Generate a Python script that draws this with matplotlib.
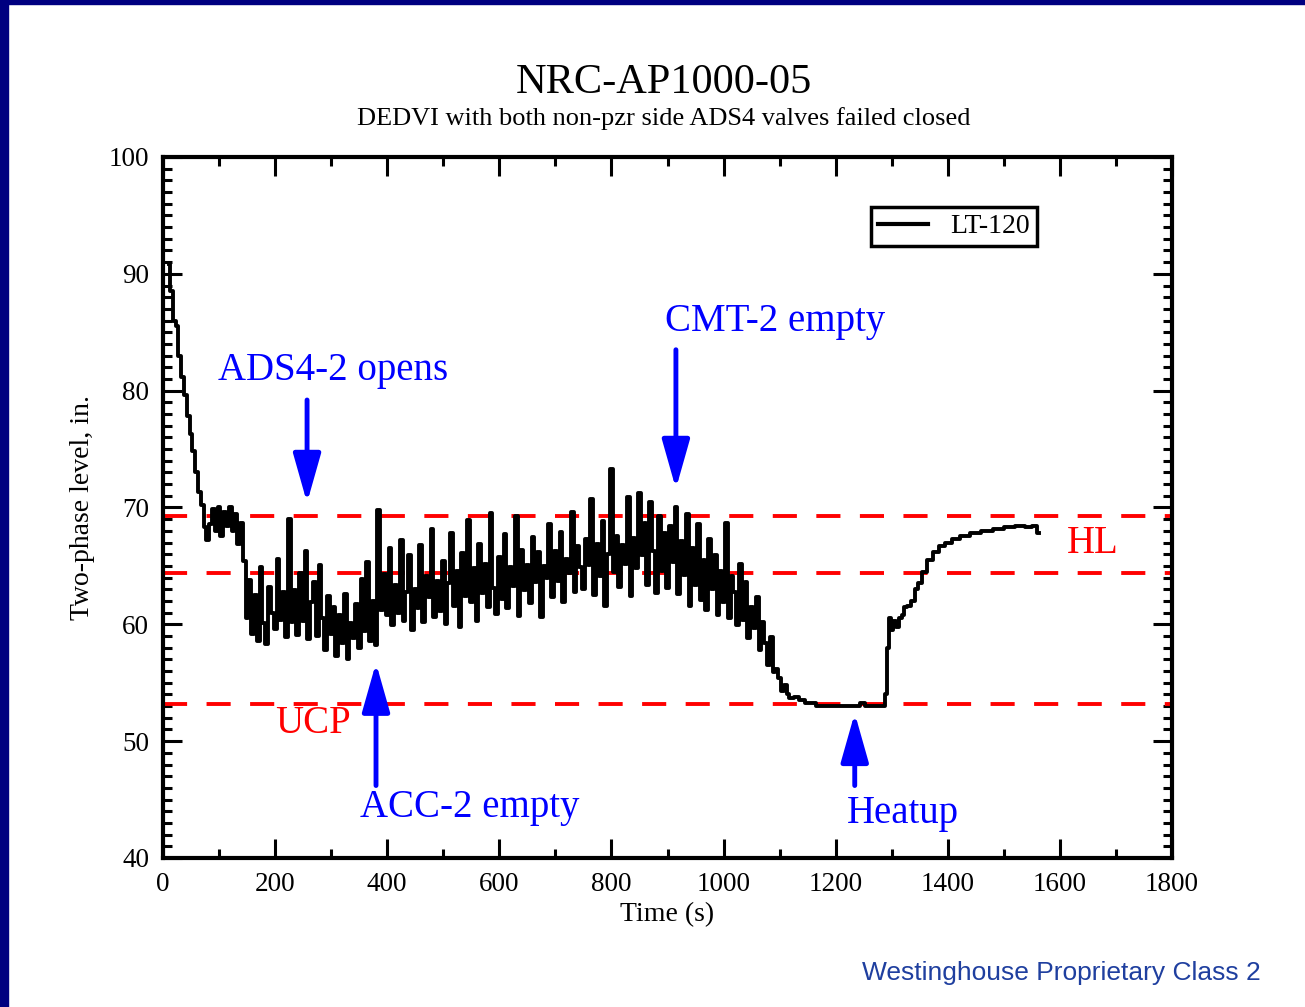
import numpy as np
import matplotlib.pyplot as plt
from matplotlib.patches import Rectangle

# LT-120 two-phase level (in.)
t_early = [10, 15, 20, 25, 30, 35, 40, 45, 50, 55, 60, 65, 70, 75, 80, 85, 90, 95,
           100, 105, 110, 115, 120, 125, 130, 135, 140, 145]
lvl_early = [90.8, 88.5, 86.0, 85.5, 83.0, 81.2, 79.6, 77.8, 76.3, 74.8, 73.0, 71.3,
             70.2, 68.3, 67.2, 68.6, 69.9, 68.0, 70.0, 67.6, 69.6, 68.4, 70.0, 68.0,
             69.4, 66.9, 68.7, 65.4]

# noisy section, 150 s to 1100 s every 5 s
t_noisy = list(range(150, 1101, 5))
lvl_noisy = [
    60.5, 63.8, 59.2, 62.5, 58.6, 64.9, 60.1, 58.3, 63.2, 61.0,
    59.6, 65.6, 60.4, 62.8, 58.9, 69.0, 60.2, 62.9, 59.1, 64.4,
    60.3, 66.3, 58.7, 61.9, 63.6, 59.0, 65.1, 60.5, 57.8, 62.4,
    59.2, 61.5, 57.3, 60.8, 58.4, 62.6, 57.0, 60.1, 58.8, 61.7,
    58.0, 63.9, 59.4, 65.3, 58.6, 62.0, 58.2, 69.8, 61.2, 64.3,
    60.8, 66.5, 59.9, 63.4, 61.0, 67.2, 60.3, 62.8, 65.9, 59.5,
    63.0, 61.4, 66.8, 60.2, 64.1, 62.3, 68.2, 60.6, 63.7, 61.1,
    65.4, 60.0, 63.5, 67.8, 61.6, 64.6, 59.8, 66.1, 62.4, 68.9,
    61.9, 64.8, 60.3, 66.9, 62.7, 65.2, 61.5, 69.5, 63.1, 60.9,
    65.8, 62.2, 67.7, 61.4, 64.9, 63.3, 69.3, 60.7, 66.4, 62.9,
    65.1, 61.8, 67.5, 63.6, 66.2, 60.6, 65.0, 64.0, 68.6, 62.3,
    66.3, 63.7, 67.9, 61.9, 65.6, 64.4, 69.6, 62.8, 66.7, 64.9,
    63.0, 67.3, 65.1, 70.7, 62.5, 66.9, 64.1, 68.8, 61.6, 66.0,
    73.3, 64.5, 67.6, 63.2, 66.8, 65.2, 70.9, 62.4, 67.4, 64.8,
    71.2, 65.9, 68.7, 63.4, 70.5, 66.3, 62.7, 69.3, 64.6, 67.8,
    63.1, 68.4, 65.3, 70.0, 62.6, 67.1, 64.2, 69.4, 61.6, 66.5,
    63.4, 68.6, 62.1, 65.5, 61.2, 67.3, 63.0, 65.9, 60.8, 64.6,
    61.9, 68.7, 60.5, 64.1, 62.8, 59.9, 65.2, 60.4, 63.6, 58.8,
    61.5, 59.7, 62.3, 57.8, 60.2, 58.4, 56.5, 58.9, 55.9, 56.2,
    55.4]

t_late = [1105, 1110, 1115, 1120, 1130, 1140, 1150, 1160, 1170, 1180, 1200, 1220,
          1240, 1248, 1255, 1270, 1285, 1290, 1293, 1296, 1300, 1305, 1310, 1315,
          1320, 1325, 1330, 1338, 1345, 1350, 1358, 1368, 1378, 1390, 1400, 1415,
          1430, 1450, 1470, 1490, 1510, 1530, 1545, 1555, 1562]
lvl_late = [54.3, 54.8, 54.0, 53.7, 53.8, 53.5, 53.3, 53.3, 53.0, 53.0, 53.0, 53.0,
            53.0, 53.3, 53.0, 53.0, 53.0, 54.0, 58.0, 60.5, 59.5, 60.3, 59.8, 60.5,
            60.8, 61.5, 61.6, 62.0, 63.0, 63.5, 64.5, 65.5, 66.2, 66.7, 67.0, 67.3,
            67.6, 67.8, 68.0, 68.2, 68.3, 68.4, 68.3, 68.4, 67.8]

time = np.array(t_early + t_noisy + t_late)
level = np.array(lvl_early + lvl_noisy + lvl_late)

hl_top, hl_bot, ucp = 69.3, 64.4, 53.2

# events: (label, arrow x, text y, arrow tail y, arrow tip y, text x)
events = [
    ("ADS4-2 opens", 257, 81.7, 79.2, 70.4, 303),
    ("CMT-2 empty", 915, 85.9, 83.5, 71.6, 1092),
    ("ACC-2 empty", 380, 44.3, 46.2, 56.7, 548),
    ("Heatup", 1234, 43.8, 46.2, 52.4, 1320),
]

serif = "Liberation Serif"
blue = "#0000ff"
red = "#ff0000"

fig = plt.figure(figsize=(13.05, 10.07), dpi=100)
fig.patches.append(Rectangle((0, 0), 8 / 1305, 1, transform=fig.transFigure,
                             color="#000080", zorder=0))
fig.patches.append(Rectangle((0, 1 - 4 / 1007), 1, 4 / 1007, transform=fig.transFigure,
                             color="#000080", zorder=0))

ax = fig.add_axes([0.1249, 0.148, 0.7732, 0.6961])
ax.plot(time, level, color="black", lw=2.8, label="LT-120", drawstyle="steps-mid",
        zorder=3)

for yv in (hl_top, hl_bot, ucp):
    ax.axhline(yv, color=red, lw=2.8, dashes=(6.2, 5.0), zorder=2)

ax.set_xlim(0, 1800)
ax.set_ylim(40, 100)
ax.set_xticks(np.arange(0, 1801, 200))
ax.set_xticks(np.arange(0, 1801, 100), minor=True)
ax.set_yticks(np.arange(40, 101, 10))
ax.set_yticks(np.arange(40, 101, 1), minor=True)
ax.tick_params(which="both", direction="in", top=True, right=True, width=2.2)
ax.tick_params(which="major", length=14, pad=10)
ax.tick_params(which="minor", length=6.5)
for sp in ax.spines.values():
    sp.set_linewidth(3)
for lab in ax.get_xticklabels() + ax.get_yticklabels():
    lab.set_fontfamily(serif)
    lab.set_fontsize(19.5)

ax.set_xlabel("Time (s)", fontfamily=serif, fontsize=20, labelpad=4)
ax.set_ylabel("Two-phase level, in.", fontfamily=serif, fontsize=20, labelpad=10)

for label, x, ty, tail, tip, tx in events:
    ax.annotate("", xy=(x, tip), xytext=(x, tail),
                arrowprops=dict(arrowstyle="-|>,head_length=3.0,head_width=0.85",
                                color=blue, lw=3.5, shrinkA=0, shrinkB=0))
    ax.text(tx, ty, label, color=blue, fontsize=28, fontfamily=serif,
            ha="center", va="center")

ax.text(268, 51.5, "UCP", color=red, fontsize=28, fontfamily=serif, ha="center", va="center")
ax.text(1659, 66.9, "HL", color=red, fontsize=28, fontfamily=serif, ha="center", va="center")

leg = ax.legend(loc="upper right", bbox_to_anchor=(0.866, 0.9287), borderaxespad=0,
                prop={"family": serif, "size": 20}, fancybox=False, framealpha=1,
                edgecolor="black", handlelength=1.8, handletextpad=0.8, borderpad=0.25)
leg.get_frame().set_linewidth(2.5)
for ln in leg.get_lines():
    ln.set_linewidth(3)

fig.text(0.509, 0.918, "NRC-AP1000-05", fontfamily=serif, fontsize=30.5, ha="center", va="center")
fig.text(0.509, 0.882, "DEDVI with both non-pzr side ADS4 valves failed closed",
         fontfamily=serif, fontsize=19, ha="center", va="center")
fig.text(0.966, 0.034, "Westinghouse Proprietary Class 2", fontfamily="Liberation Sans",
         fontsize=19, color="#1f3f9f", ha="right", va="center")

fig.savefig("out.png", dpi=100)
